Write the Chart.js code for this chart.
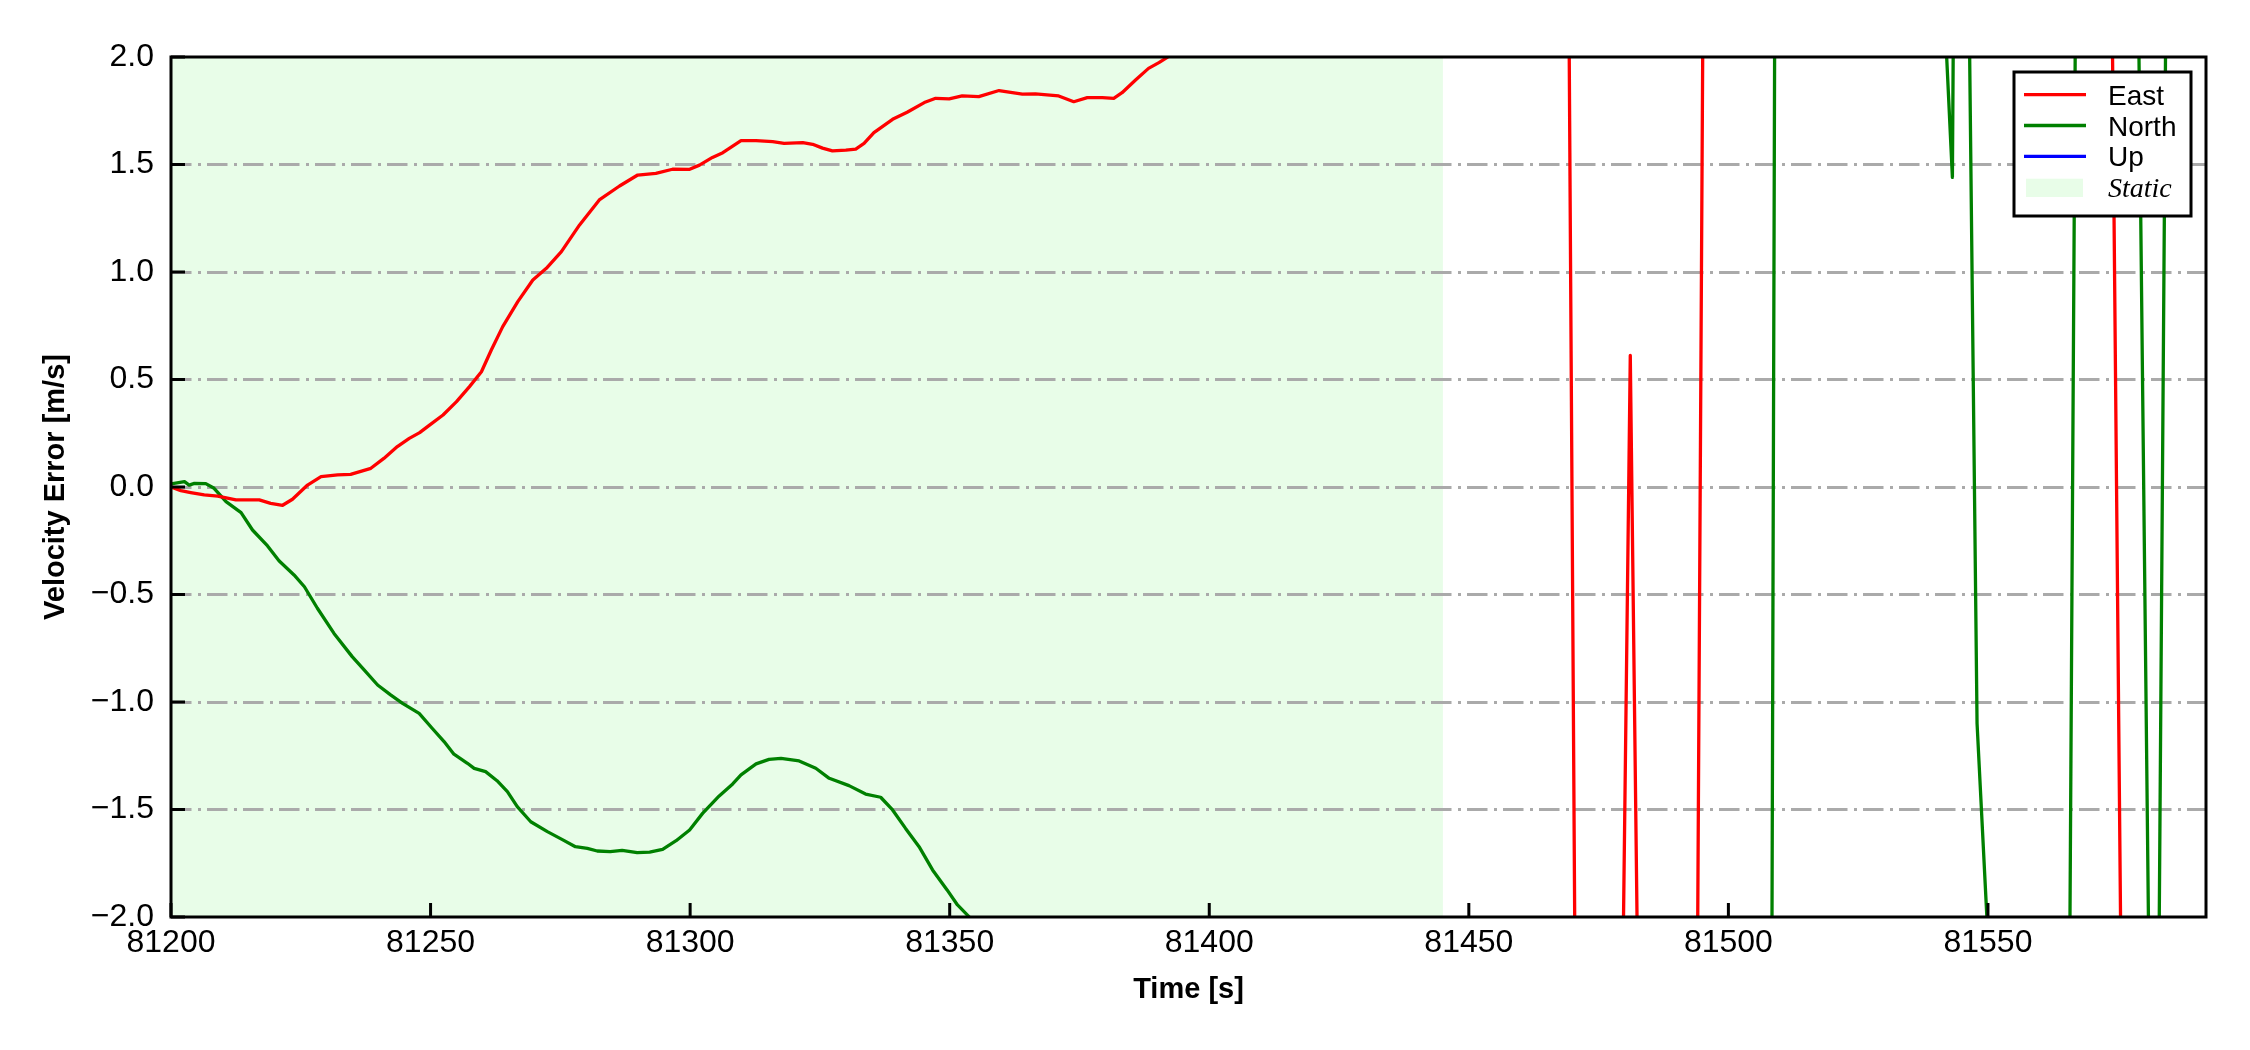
<!DOCTYPE html>
<html>
<head>
<meta charset="utf-8">
<title>Velocity Error</title>
<script src="https://cdn.jsdelivr.net/npm/chart.js@4.4.1/dist/chart.umd.min.js"></script>
<style>
  html, body { margin: 0; padding: 0; background: #fff; }
  canvas { display: block; }
</style>
</head>
<body>
<canvas id="velChart" width="2250" height="1050"></canvas>
<script>
// East velocity error (time [s], value [m/s]); values beyond +-2 run off the plot
const eastTime = [
  81200, 81201.9, 81203.8, 81206.4, 81209.0, 81212.5, 81217.0, 81219.2, 81221.5, 81223.4,
  81226.3, 81228.9, 81232.1, 81234.6, 81238.5, 81241.0, 81243.6, 81245.9, 81247.9, 81249.8,
  81252.4, 81255.0, 81257.5, 81259.8, 81261.7, 81263.9, 81266.8, 81269.7, 81272.3, 81275.2,
  81278.7, 81282.5, 81286.4, 81289.9, 81293.4, 81296.6, 81299.8, 81301.8, 81304.3, 81306.3,
  81309.8, 81312.7, 81315.9, 81318.1, 81321.7, 81323.6, 81325.5, 81327.4, 81330.0, 81331.9,
  81333.5, 81335.4, 81339.0, 81341.8, 81345.1, 81347.3, 81349.9, 81352.4, 81355.6, 81359.5,
  81364.0, 81366.5, 81371.0, 81373.9, 81376.5, 81379.4, 81381.6, 81383.2, 81385.8, 81388.3,
  81390.3, 81391.9, 81394, 81400, 81420, 81440, 81460, 81469, 81471, 81475,
  81479, 81481.1, 81483.2, 81488, 81493.5, 81495.5, 81500, 81520, 81540, 81560,
  81573.5, 81576, 81585, 81592
];
const eastVel = [
  0.000, -0.017, -0.026, -0.037, -0.042, -0.060, -0.060, -0.076, -0.085, -0.057,
  0.009, 0.048, 0.056, 0.059, 0.087, 0.133, 0.188, 0.226, 0.253, 0.288,
  0.335, 0.397, 0.467, 0.536, 0.637, 0.746, 0.862, 0.963, 1.017, 1.095,
  1.219, 1.335, 1.400, 1.451, 1.459, 1.478, 1.477, 1.497, 1.533, 1.555,
  1.611, 1.611, 1.606, 1.598, 1.602, 1.594, 1.576, 1.563, 1.567, 1.572,
  1.598, 1.648, 1.710, 1.743, 1.788, 1.808, 1.805, 1.819, 1.816, 1.844,
  1.827, 1.828, 1.819, 1.792, 1.811, 1.811, 1.808, 1.834, 1.893, 1.947,
  1.974, 1.998, 2.06, 2.4, 3.2, 3.9, 4.4, 3.3, -4.3, -4.0,
  -3.6, 0.612, -3.6, -4.5, -4.5, 3.9, 6.0, 5.5, 5.0, 4.3,
  3.3, -3.2, -4.0, -4.5
];

// North velocity error
const northTime = [
  81200, 81202.6, 81203.5, 81204.5, 81206.7, 81208.3, 81210.6, 81213.5, 81215.7, 81218.6,
  81220.8, 81223.7, 81225.7, 81228.2, 81231.4, 81234.9, 81237.2, 81239.8, 81242.3, 81244.6,
  81247.8, 81250.3, 81252.6, 81254.5, 81257.1, 81258.4, 81260.6, 81262.8, 81264.8, 81266.7,
  81269.3, 81272.5, 81275.3, 81277.9, 81280.2, 81282.1, 81284.6, 81286.9, 81289.8, 81292.2,
  81294.7, 81297.3, 81299.9, 81302.4, 81305.6, 81308.2, 81309.8, 81312.7, 81315.2, 81317.5,
  81321.0, 81324.2, 81326.8, 81330.6, 81333.8, 81336.7, 81339.0, 81341.5, 81344.1, 81346.7,
  81349.5, 81351.5, 81353.7, 81356, 81380, 81420, 81460, 81500, 81508, 81509,
  81515, 81525, 81535, 81541, 81543.15, 81544.15, 81546.2, 81547.9, 81550, 81558,
  81565, 81567, 81572, 81578.5, 81581.5, 81582, 81585, 81592
];
const northVel = [
  0.014, 0.025, 0.009, 0.017, 0.016, -0.006, -0.068, -0.119, -0.200, -0.274,
  -0.343, -0.409, -0.464, -0.564, -0.681, -0.789, -0.851, -0.921, -0.967, -1.006,
  -1.053, -1.122, -1.184, -1.243, -1.285, -1.309, -1.324, -1.366, -1.417, -1.487,
  -1.557, -1.603, -1.639, -1.673, -1.681, -1.693, -1.696, -1.690, -1.701, -1.698,
  -1.685, -1.645, -1.595, -1.518, -1.437, -1.381, -1.339, -1.288, -1.267, -1.262,
  -1.274, -1.308, -1.355, -1.389, -1.428, -1.443, -1.502, -1.588, -1.673, -1.781,
  -1.874, -1.944, -1.998, -2.2, -3.5, -4.5, -5.0, -5.3, -5.2, 2.8,
  4.5, 4.0, 3.2, 2.53, 1.44, 5.2, 2.6, -1.1, -2.1, -4.0,
  -5.2, 2.8, 4.5, 3.3, -3.3, -5.33, 4.67, 5.0
];

// Up velocity error: nothing of it shows inside the plotted range
const upTime = [];
const upVel = [];

const staticSpan = [81200, 81445];
const xRange = [81200, 81592];
const yRange = [-2, 2];
const xTickValues = [81200, 81250, 81300, 81350, 81400, 81450, 81500, 81550];
const yTickValues = [-2, -1.5, -1, -0.5, 0, 0.5, 1, 1.5, 2];

const STATIC_COLOR = 'rgb(232, 253, 232)';
const SANS = '"Liberation Sans", Arial, sans-serif';

function toPoints(times, vals) {
  return times.map((t, i) => ({ x: t, y: vals[i] }));
}

// light green band for the static period, under the grid
const staticShade = {
  id: 'staticShade',
  beforeDraw(chart) {
    const { ctx, chartArea, scales } = chart;
    const x0 = scales.x.getPixelForValue(staticSpan[0]);
    const x1 = scales.x.getPixelForValue(staticSpan[1]);
    ctx.save();
    ctx.fillStyle = STATIC_COLOR;
    ctx.fillRect(x0, chartArea.top, x1 - x0, chartArea.bottom - chartArea.top);
    ctx.restore();
  }
};

// full box frame and inward tick marks, matplotlib style
const frameTicks = {
  id: 'frameTicks',
  afterDatasetsDraw(chart) {
    const { ctx, chartArea: a, scales } = chart;
    ctx.save();
    ctx.strokeStyle = '#000';
    ctx.lineWidth = 3;
    ctx.beginPath();
    scales.y.ticks.forEach(t => {
      const y = scales.y.getPixelForValue(t.value);
      ctx.moveTo(a.left, y);
      ctx.lineTo(a.left + 14, y);
    });
    scales.x.ticks.forEach(t => {
      const x = scales.x.getPixelForValue(t.value);
      ctx.moveTo(x, a.bottom);
      ctx.lineTo(x, a.bottom - 14);
    });
    ctx.stroke();
    ctx.strokeRect(a.left, a.top, a.right - a.left, a.bottom - a.top);
    ctx.restore();
  }
};

// boxed legend in the upper right corner of the axes
const boxLegend = {
  id: 'boxLegend',
  afterDraw(chart) {
    const { ctx, chartArea: a } = chart;
    const w = 177, h = 144;
    const left = a.right - 15 - w;
    const top = a.top + 15;
    ctx.save();
    ctx.fillStyle = '#fff';
    ctx.fillRect(left, top, w, h);
    ctx.lineWidth = 3;
    ctx.strokeStyle = '#000';
    ctx.strokeRect(left, top, w, h);

    ctx.font = '28px ' + SANS;
    ctx.textAlign = 'left';
    ctx.textBaseline = 'alphabetic';
    chart.data.datasets.forEach((ds, i) => {
      const y = top + 22.7 + i * 30.8;
      ctx.strokeStyle = ds.borderColor;
      ctx.lineWidth = 3.3;
      ctx.beginPath();
      ctx.moveTo(left + 10, y);
      ctx.lineTo(left + 72, y);
      ctx.stroke();
      ctx.fillStyle = '#000';
      ctx.fillText(ds.label, left + 94, y + 10);
    });

    ctx.fillStyle = STATIC_COLOR;
    ctx.fillRect(left + 12, top + 106.7, 57, 18.3);
    ctx.fillStyle = '#000';
    ctx.font = 'italic 28px "Liberation Serif", "Times New Roman", serif';
    ctx.fillText('Static', left + 94, top + 125);
    ctx.restore();
  }
};

const ctx = document.getElementById('velChart').getContext('2d');
const velChart = new Chart(ctx, {
  type: 'line',
  data: {
    datasets: [
      { label: 'East', data: toPoints(eastTime, eastVel), borderColor: '#ff0000' },
      { label: 'North', data: toPoints(northTime, northVel), borderColor: '#008000' },
      { label: 'Up', data: toPoints(upTime, upVel), borderColor: '#0000ff' }
    ]
  },
  options: {
    responsive: false,
    animation: false,
    devicePixelRatio: 1,
    layout: { padding: { top: 57, right: 44, left: 0, bottom: 0 } },
    elements: {
      line: { borderWidth: 3.3, tension: 0, fill: false, borderJoinStyle: 'round' },
      point: { radius: 0, hoverRadius: 0 }
    },
    plugins: {
      legend: { display: false },
      tooltip: { enabled: false }
    },
    scales: {
      x: {
        type: 'linear',
        min: xRange[0],
        max: xRange[1],
        afterBuildTicks: scale => { scale.ticks = xTickValues.map(v => ({ value: v })); },
        afterFit: scale => { scale.height = 133; },
        grid: { display: false, drawTicks: false },
        border: { display: false },
        ticks: {
          color: '#000',
          padding: 7,
          maxRotation: 0,
          autoSkip: false,
          font: { family: SANS, size: 32 },
          callback: v => String(v)
        },
        title: {
          display: true,
          text: 'Time [s]',
          color: '#000',
          padding: { top: 0, bottom: 43 },
          font: { family: SANS, size: 29, weight: 'bold' }
        }
      },
      y: {
        min: yRange[0],
        max: yRange[1],
        afterBuildTicks: scale => { scale.ticks = yTickValues.map(v => ({ value: v })); },
        afterFit: scale => { scale.width = 171; },
        grid: {
          drawTicks: false,
          lineWidth: 3,
          color: c => (Math.abs(c.tick.value) === 2 ? 'rgba(0,0,0,0)' : '#aaaaaa')
        },
        border: { display: false, dash: [20.5, 6.5, 3, 6] },
        ticks: {
          color: '#000',
          padding: 17,
          font: { family: SANS, size: 32 },
          callback: v => (v < 0 ? '\u2212' : '') + Math.abs(v).toFixed(1)
        },
        title: {
          display: true,
          text: 'Velocity Error [m/s]',
          color: '#000',
          padding: { top: 39, bottom: 0 },
          font: { family: SANS, size: 29, weight: 'bold' }
        }
      }
    }
  },
  plugins: [staticShade, frameTicks, boxLegend]
});
</script>
</body>
</html>
